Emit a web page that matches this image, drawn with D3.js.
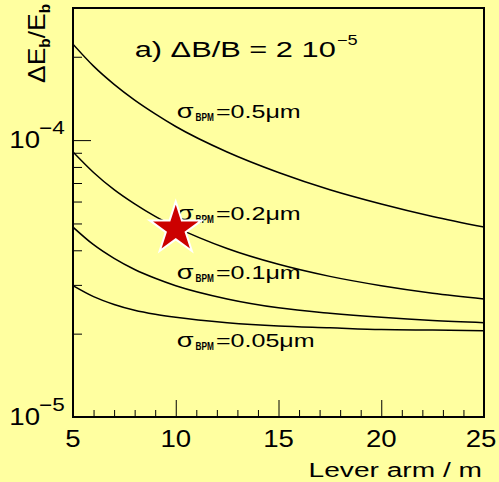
<!DOCTYPE html>
<html>
<head>
<meta charset="utf-8">
<script src="https://cdn.jsdelivr.net/npm/d3@7"></script>
<style>
  body { margin: 0; background: #ffffa0; }
  svg { display: block; }
  text { font-family: "Liberation Sans", Arial, sans-serif; fill: #000; }
</style>
</head>
<body>
<script>
// lever arm in m, relative energy resolution for each BPM resolution
const leverArm = [5, 6, 7, 8, 9, 10, 12.5, 15, 17.5, 20, 22.5, 25];
const res05  = [22.2e-5, 18.5e-5, 15.9e-5, 13.95e-5, 12.44e-5, 11.2e-5, 9.06e-5, 7.64e-5, 6.62e-5, 5.88e-5, 5.30e-5, 4.85e-5];
const res02  = [9.06e-5, 7.64e-5, 6.62e-5, 5.88e-5, 5.30e-5, 4.85e-5, 4.06e-5, 3.56e-5, 3.22e-5, 2.98e-5, 2.80e-5, 2.67e-5];
const res01  = [4.85e-5, 4.19e-5, 3.74e-5, 3.41e-5, 3.17e-5, 2.98e-5, 2.67e-5, 2.48e-5, 2.37e-5, 2.29e-5, 2.23e-5, 2.19e-5];
const res005 = [2.98e-5, 2.72e-5, 2.55e-5, 2.43e-5, 2.35e-5, 2.29e-5, 2.19e-5, 2.13e-5, 2.10e-5, 2.07e-5, 2.06e-5, 2.05e-5];
const sigmas = ["0.5", "0.2", "0.1", "0.05"];
const labelRes = [1.2e-4, 5.15e-5, 3.15e-5, 1.79e-5];
const starArm = [10];
const starRes = [4.78e-5];
const xTicks = d3.range(5, 26);
const xLabels = [5, 10, 15, 20, 25];

const W = 499, H = 482;
const margin = {top: 8, right: 15, bottom: 65, left: 73};
const width = W - margin.left - margin.right;
const height = H - margin.top - margin.bottom;

const svg = d3.select("body").append("svg")
    .attr("width", W)
    .attr("height", H);
svg.append("rect").attr("width", W).attr("height", H).attr("fill", "#ffffa0");

const g = svg.append("g")
    .attr("transform", `translate(${margin.left},${margin.top})`);

const x = d3.scaleLinear().domain([5, 25]).range([0, width]);
const y = d3.scaleLog().domain([1e-5, 3e-4]).range([height, 0]);

// text built from pieces, each with its own size / horizontal stretch
function richText(parent, px, py, parts) {
  const t = parent.append("g").attr("transform", `translate(${px},${py})`);
  let cx = 0;
  parts.forEach(p => {
    const el = t.append("text")
      .attr("font-size", p.size)
      .attr("font-weight", p.bold ? "bold" : null)
      .attr("transform", `translate(${cx},${p.dy || 0}) scale(${p.sx},1)`)
      .text(p.text);
    cx += el.node().getComputedTextLength() * p.sx + (p.gap || 0);
  });
  return t;
}

g.append("clipPath").attr("id", "clip")
  .append("rect").attr("width", width).attr("height", height);

const line = d3.line()
    .x(d => x(d[0]))
    .y(d => y(d[1]))
    .curve(d3.curveMonotoneX);

const series = [res05, res02, res01, res005];
g.append("g").attr("clip-path", "url(#clip)")
  .selectAll("path")
  .data(series)
  .enter().append("path")
  .attr("d", s => line(leverArm.map((l, i) => [l, s[i]])))
  .attr("fill", "none")
  .attr("stroke", "#000")
  .attr("stroke-width", 1.5);

// curve labels
sigmas.forEach((s, i) => {
  richText(g, x(10) + 1, y(labelRes[i]), [
    {text: "σ", size: 21, sx: 1.3, gap: 2},
    {text: "BPM", size: 11, bold: true, sx: 0.75, dy: 3, gap: 2},
    {text: "=" + s + "μm", size: 19, sx: 1.32}
  ]);
});

// annotation
richText(g, x(8), y(2e-4), [
  {text: "a) ΔB/B = 2 10", size: 22, sx: 1.4, gap: 1},
  {text: "−5", size: 14, sx: 1.3, dy: -12}
]);

// star marker
g.selectAll(".star")
  .data(starArm)
  .enter().append("path")
  .attr("class", "star")
  .attr("transform", (d, i) => `translate(${x(d)},${y(starRes[i])})`)
  .attr("d", d3.symbol(d3.symbolStar, 840))
  .attr("fill", "#cc0000")
  .attr("stroke", "#fff")
  .attr("stroke-width", 2);

// x axis ticks (pointing up from the bottom)
const xMinor = d3.axisTop(x).tickValues(xTicks.filter(v => v % 5)).tickSize(7).tickFormat("");
const xMajor = d3.axisTop(x).tickValues(xLabels).tickSize(17).tickFormat("");
[xMinor, xMajor].forEach(ax => {
  g.append("g").attr("transform", `translate(0,${height})`).call(ax)
    .call(a => a.select(".domain").remove());
});

g.selectAll(".xlab")
  .data(xLabels)
  .enter().append("text")
  .attr("class", "xlab")
  .attr("font-size", 24)
  .attr("text-anchor", "middle")
  .attr("transform", d => `translate(${x(d) - (d === 25 ? 3 : 0)},${height + 30}) scale(1.15,1)`)
  .text(d => d);

// y axis ticks (pointing right from the left edge)
const yAll = y.ticks();
const isMajor = v => Math.abs(Math.log10(v) - Math.round(Math.log10(v))) < 1e-6;
const yMinor = d3.axisRight(y).tickValues(yAll.filter(v => !isMajor(v))).tickSize(9).tickFormat("");
const yMajor = d3.axisRight(y).tickValues(yAll.filter(isMajor)).tickSize(18).tickFormat("");
[yMinor, yMajor].forEach(ax => {
  g.append("g").call(ax).call(a => a.select(".domain").remove());
});
g.selectAll(".tick line").attr("stroke", "#000").attr("stroke-width", 1);

yAll.filter(isMajor).forEach(v => {
  const ty = y(v);
  g.append("text")
    .attr("font-size", 24)
    .attr("text-anchor", "end")
    .attr("transform", `translate(-33,${ty + 8}) scale(1.15,1)`)
    .text("10");
  g.append("text")
    .attr("font-size", 18)
    .attr("transform", `translate(-34,${ty - 6}) scale(1.25,1)`)
    .text("−" + Math.abs(Math.round(Math.log10(v))));
});

// frame
g.append("rect")
  .attr("width", width)
  .attr("height", height)
  .attr("fill", "none")
  .attr("stroke", "#000")
  .attr("stroke-width", 2);

// axis titles
svg.append("text")
  .attr("font-size", 21)
  .attr("text-anchor", "end")
  .attr("transform", `translate(482,477) scale(1.34,1)`)
  .text("Lever arm / m");

const yTitle = svg.append("g").attr("transform", "translate(45,83) rotate(-90)");
richText(yTitle, 0, 0, [
  {text: "ΔE", size: 23, sx: 1.15},
  {text: "b", size: 14, bold: true, sx: 1.1, dy: 5},
  {text: "/E", size: 23, sx: 1.15},
  {text: "b", size: 14, bold: true, sx: 1.1, dy: 5}
]);
</script>
</body>
</html>
